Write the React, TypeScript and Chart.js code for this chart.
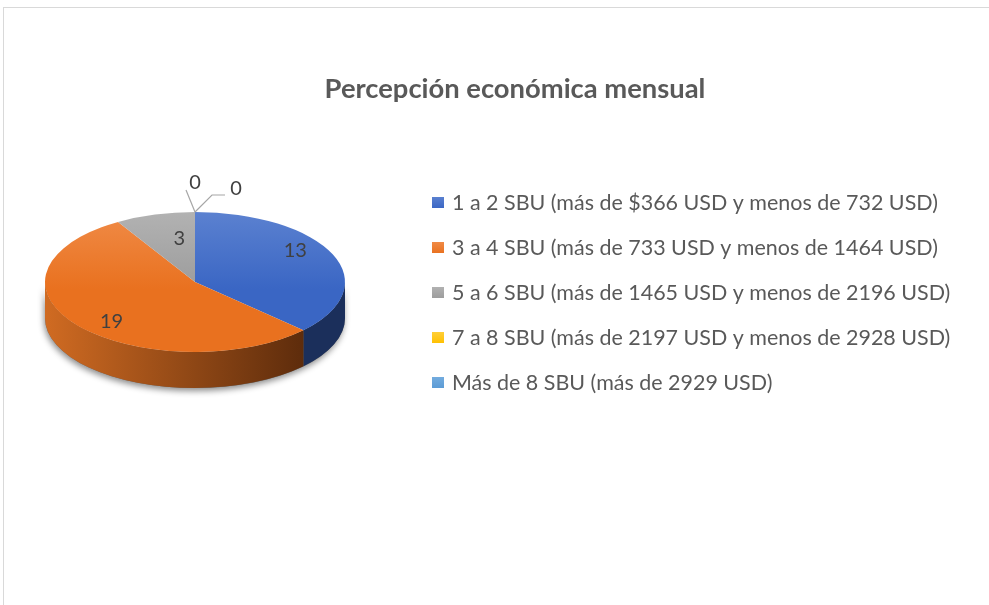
import React, { useEffect, useRef } from "react";
import { Chart, registerables } from "chart.js";

Chart.register(...registerables);

const TITLE = "Percepción económica mensual";
const categories = [
  "1 a 2 SBU (más de $366 USD y menos de 732 USD)",
  "3 a 4 SBU (más de 733 USD y menos de 1464 USD)",
  "5 a 6 SBU (más de 1465 USD y menos de 2196 USD)",
  "7 a 8 SBU (más de 2197 USD y menos de 2928 USD)",
  "Más de 8 SBU (más de 2929 USD)",
];
const values = [13, 19, 3, 0, 0];

const baseColors = ["#3a66c4", "#e9711f", "#9c9c9c", "#ffc000", "#5b9bd5"];
const topColors = ["#5b81d0", "#f08b47", "#b2b2b2", "#ffcf3a", "#74acdf"];
const sideLight = ["#22396b", "#d06b22", "#8a8a8a", "#c99700", "#3f78ab"];
const sideDark = ["#15264c", "#5a2a0b", "#555555", "#7a5c00", "#234a70"];

const W = 989;
const H = 605;
const SQUASH = 70 / 150;
const DEPTH = 36;
const FONT = "Lato, 'Open Sans', 'DejaVu Sans', sans-serif";

function fitFont(ctx: CanvasRenderingContext2D, text: string, target: number, weight: string) {
  let size = 24;
  ctx.font = `${weight} ${size}px ${FONT}`;
  const w = ctx.measureText(text).width;
  size = (size * target) / w;
  return `${weight} ${size.toFixed(2)}px ${FONT}`;
}

const pie3d = {
  id: "pie3d",
  beforeDraw(chart: any) {
    const ctx = chart.ctx as CanvasRenderingContext2D;
    ctx.save();
    ctx.fillStyle = "#ffffff";
    ctx.fillRect(0, 0, W, H);
    ctx.strokeStyle = "#d9d9d9";
    ctx.lineWidth = 1;
    ctx.strokeRect(3.5, 7.5, 1200, 1200);
    ctx.restore();
  },
  beforeDatasetsDraw(chart: any) {
    const ctx = chart.ctx as CanvasRenderingContext2D;
    const arcs = chart.getDatasetMeta(0).data as any[];
    ctx.save();
    if (!arcs.length) return;
    const cx = arcs[0].x;
    const cy = arcs[0].y;
    const R = arcs[0].outerRadius;
    const rY = R * SQUASH;
    ctx.save();
    ctx.shadowColor = "rgba(0,0,0,0.45)";
    ctx.shadowBlur = 6;
    ctx.shadowOffsetX = -1;
    ctx.shadowOffsetY = 3;
    ctx.beginPath();
    ctx.ellipse(cx, cy, R, rY, 0, 0, Math.PI, false);
    ctx.ellipse(cx, cy + DEPTH, R, rY, 0, Math.PI, 0, true);
    ctx.closePath();
    ctx.fillStyle = "#666666";
    ctx.fill();
    ctx.restore();
    arcs.forEach((arc, i) => {
      const s = arc.startAngle;
      const e = arc.endAngle;
      if (e - s <= 0) return;
      [-2 * Math.PI, 0, 2 * Math.PI].forEach((off) => {
        const lo = Math.max(s, off);
        const hi = Math.min(e, Math.PI + off);
        if (hi <= lo) return;
        const g = ctx.createLinearGradient(cx - R, 0, cx + R * 0.78, 0);
        g.addColorStop(0, sideLight[i]);
        g.addColorStop(1, sideDark[i]);
        ctx.beginPath();
        ctx.ellipse(cx, cy, R, rY, 0, lo, hi, false);
        ctx.ellipse(cx, cy + DEPTH, R, rY, 0, hi, lo, true);
        ctx.closePath();
        ctx.fillStyle = i === 0 ? "#1b2f5b" : g;
        ctx.fill();
      });
    });
    ctx.translate(cx, cy);
    ctx.scale(1, SQUASH);
    ctx.translate(-cx, -cy);
  },
  afterDatasetsDraw(chart: any) {
    const ctx = chart.ctx as CanvasRenderingContext2D;
    ctx.restore();
    const arcs = chart.getDatasetMeta(0).data as any[];
    if (!arcs.length) return;
    const cx = arcs[0].x;
    const cy = arcs[0].y;
    const R = arcs[0].outerRadius;
    const rY = R * SQUASH;
    ctx.save();
    ctx.font = `20px ${FONT}`;
    ctx.fillStyle = "#404040";
    ctx.textAlign = "center";
    ctx.textBaseline = "middle";
    let zeroCount = 0;
    const topX = cx;
    const topY = cy - rY;
    arcs.forEach((arc, i) => {
      const v = values[i];
      const s = arc.startAngle;
      const e = arc.endAngle;
      if (v > 0) {
        const mid = (s + e) / 2;
        const f = e - s < 0.7 ? 0.42 : 0.72;
        const x = cx + Math.cos(mid) * f * R;
        const y = cy - 4 + Math.sin(mid) * f * R * 0.65;
        ctx.fillText(String(v), x + 1, y);
      } else {
        ctx.strokeStyle = "#a6a6a6";
        ctx.lineWidth = 1.2;
        ctx.beginPath();
        if (zeroCount === 0) {
          ctx.moveTo(topX, topY);
          ctx.lineTo(topX - 9, topY - 22);
          ctx.stroke();
          ctx.fillText(String(v), topX, topY - 29);
        } else {
          ctx.moveTo(topX, topY);
          ctx.lineTo(topX + 17, topY - 17);
          ctx.lineTo(topX + 30, topY - 17);
          ctx.stroke();
          ctx.fillText(String(v), topX + 41, topY - 23);
        }
        zeroCount++;
      }
    });
    ctx.restore();
  },
  afterDraw(chart: any) {
    const ctx = chart.ctx as CanvasRenderingContext2D;
    ctx.save();
    ctx.font = fitFont(ctx, TITLE, 381, "bold");
    ctx.fillStyle = "#595959";
    ctx.textAlign = "center";
    ctx.textBaseline = "middle";
    ctx.fillText(TITLE, 515, 89);
    ctx.font = fitFont(ctx, categories[0], 486, "normal");
    ctx.textAlign = "left";
    categories.forEach((label, i) => {
      const y = 202.5 + i * 45;
      const g = ctx.createLinearGradient(0, y - 6, 0, y + 6);
      g.addColorStop(0, topColors[i]);
      g.addColorStop(1, baseColors[i]);
      ctx.fillStyle = g;
      ctx.fillRect(432, y - 5.5, 12, 11);
      ctx.fillStyle = "#595959";
      ctx.fillText(label, 452, y + 1);
    });
    ctx.restore();
  },
};

export default function App() {
  const ref = useRef<HTMLCanvasElement | null>(null);
  useEffect(() => {
    if (!ref.current) return;
    const chart = new Chart(ref.current, {
      type: "pie",
      data: {
        labels: categories,
        datasets: [
          {
            data: values,
            borderWidth: 0,
            clip: false as any,
            backgroundColor: (c: any) => {
              const i = c.dataIndex;
              const ca = c.chart.chartArea;
              if (!ca) return baseColors[i];
              const g = c.chart.ctx.createLinearGradient(0, ca.top, 0, ca.bottom);
              g.addColorStop(0, topColors[i]);
              g.addColorStop(0.55, baseColors[i]);
              g.addColorStop(1, baseColors[i]);
              return g;
            },
          },
        ],
      },
      options: {
        animation: false,
        responsive: false,
        events: [],
        layout: { padding: { left: 45, right: 644, top: 132, bottom: 173 } },
        plugins: {
          legend: { display: false },
          title: { display: false },
          tooltip: { enabled: false },
        },
      },
      plugins: [pie3d],
    });
    return () => chart.destroy();
  }, []);
  return (
    <div style={{ position: "fixed", left: 0, top: 0, width: W, height: H, background: "#fff" }}>
      <canvas ref={ref} width={W} height={H} style={{ width: W, height: H, display: "block" }} />
    </div>
  );
}
